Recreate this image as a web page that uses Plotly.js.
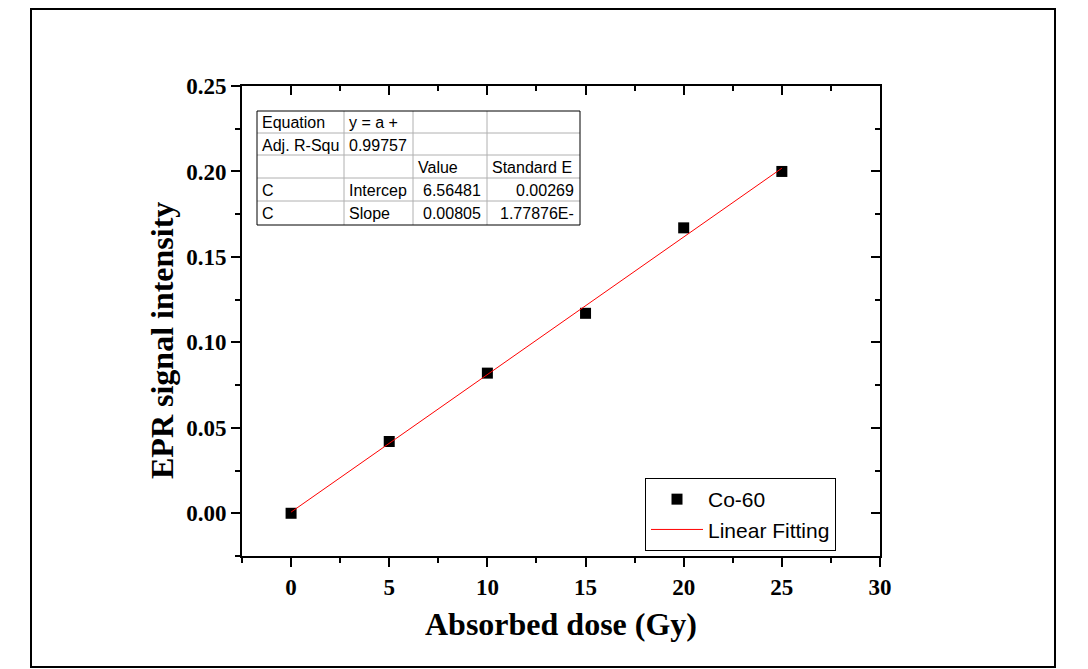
<!DOCTYPE html>
<html>
<head>
<meta charset="utf-8">
<script src="https://cdn.plot.ly/plotly-3.0.1.min.js"></script>
<style>
  body { margin: 0; background: #fff; }
  #plot { width: 1088px; height: 669px; }
</style>
</head>
<body>
<div id="plot"></div>
<script>
var doseGy = [0, 5, 10, 15, 20, 25];
var eprSignal = [0.0, 0.042, 0.082, 0.117, 0.167, 0.200];

// linear fit line end points
var fitX = [0, 25];
var fitY = [0.0007, 0.2019];

// fit result table
var tableRows = [
    ['Equation', 'y = a +', '', ''],
    ['Adj. R-Squ', '0.99757', '', ''],
    ['', '', 'Value', 'Standard E'],
    ['C', 'Intercep', '6.56481', '0.00269'],
    ['C', 'Slope', '0.00805', '1.77876E-']
];

// plot area in pixels
var L = 242, R = 880, T = 86, B = 556;
var W = 1088, H = 669;

function px(x) { return (x - L) / (R - L); }  // pixel -> paper x
function py(y) { return (B - y) / (B - T); }  // pixel -> paper y

var serif = 'Liberation Serif, Times New Roman, serif';
var sans = 'Liberation Sans, Arial, sans-serif';

var pointTrace = {
    x: doseGy,
    y: eprSignal,
    name: 'Co-60',
    mode: 'markers',
    legendrank: 1,
    marker: {symbol: 'square', size: 11, color: '#000'}
};
var fitTrace = {
    x: fitX,
    y: fitY,
    name: 'Linear Fitting',
    mode: 'lines',
    legendrank: 2,
    line: {color: '#ff0000', width: 1}
};

var shapes = [];
var annotations = [];

// outer frame round the whole figure
shapes.push({type: 'rect', xref: 'paper', yref: 'paper',
    x0: px(31), x1: px(1055), y0: py(9), y1: py(667),
    line: {color: '#000', width: 2}});

// the fit table
var colEdges = [257, 344, 413, 487, 580];
var rowEdges = [111, 133, 155, 178, 201, 225];
for (var i = 1; i < rowEdges.length - 1; i++) {
    shapes.push({type: 'line', xref: 'paper', yref: 'paper',
        x0: px(colEdges[0]), x1: px(colEdges[4]), y0: py(rowEdges[i]), y1: py(rowEdges[i]),
        line: {color: '#b0b0b0', width: 1}});
}
for (var j = 1; j < colEdges.length - 1; j++) {
    shapes.push({type: 'line', xref: 'paper', yref: 'paper',
        x0: px(colEdges[j]), x1: px(colEdges[j]), y0: py(rowEdges[0]), y1: py(rowEdges[5]),
        line: {color: '#b0b0b0', width: 1}});
}
shapes.push({type: 'rect', xref: 'paper', yref: 'paper',
    x0: px(colEdges[0]), x1: px(colEdges[4]), y0: py(rowEdges[0]), y1: py(rowEdges[5]),
    line: {color: '#000', width: 1}});

for (var r = 0; r < tableRows.length; r++) {
    for (var c = 0; c < 4; c++) {
        var txt = tableRows[r][c];
        if (!txt) continue;
        var rightAlign = (r >= 3 && c >= 2);
        annotations.push({
            xref: 'paper', yref: 'paper',
            x: rightAlign ? px(colEdges[c + 1] - 4) : px(colEdges[c] + 3),
            y: py((rowEdges[r] + rowEdges[r + 1]) / 2 + 1),
            xanchor: rightAlign ? 'right' : 'left', yanchor: 'middle',
            text: txt, showarrow: false,
            font: {family: sans, size: 16, color: '#000'}
        });
    }
}

// y axis title, placed a bit below the middle like the original
annotations.push({
    xref: 'paper', yref: 'paper', x: px(162), y: py(341),
    xanchor: 'center', yanchor: 'middle', textangle: -90,
    text: '<b>EPR signal intensity</b>', showarrow: false,
    font: {family: serif, size: 32, color: '#000'}
});

var layout = {
    width: W, height: H,
    margin: {l: L, r: W - R, t: T, b: H - B},
    paper_bgcolor: '#fff',
    plot_bgcolor: '#fff',
    showlegend: true,
    legend: {
        x: px(645), y: py(478), xanchor: 'left', yanchor: 'top',
        bordercolor: '#000', borderwidth: 1, bgcolor: '#fff',
        font: {family: sans, size: 21, color: '#000'},
        itemwidth: 52, tracegroupgap: 0, traceorder: 'normal'
    },
    xaxis: {
        range: [-2.5, 30], dtick: 5, tick0: 0,
        ticks: 'outside', ticklen: 9, tickwidth: 2, tickcolor: '#000',
        minor: {dtick: 2.5, tick0: 0, ticks: 'outside', ticklen: 5, tickwidth: 2, tickcolor: '#000', showgrid: false},
        showline: true, linewidth: 2, linecolor: '#000', mirror: true,
        showgrid: false, zeroline: false,
        tickfont: {family: serif, size: 23, color: '#000', weight: 'bold'},
        title: {text: '<b>Absorbed dose (Gy)</b>', font: {family: serif, size: 32, color: '#000'}, standoff: 14}
    },
    yaxis: {
        range: [-0.025, 0.25], dtick: 0.05, tick0: 0, tickformat: '.2f',
        ticks: 'outside', ticklen: 9, tickwidth: 2, tickcolor: '#000',
        minor: {dtick: 0.025, tick0: 0, ticks: 'outside', ticklen: 5, tickwidth: 2, tickcolor: '#000', showgrid: false},
        showline: true, linewidth: 2, linecolor: '#000', mirror: true,
        showgrid: false, zeroline: false,
        tickfont: {family: serif, size: 23, color: '#000', weight: 'bold'}
    },
    // inward ticks on the top and right borders
    xaxis2: {
        overlaying: 'x', anchor: 'y', side: 'top', range: [-2.5, 30], dtick: 5, tick0: 0,
        ticks: 'inside', ticklen: 9, tickwidth: 2, tickcolor: '#000',
        minor: {dtick: 2.5, tick0: 0, ticks: 'inside', ticklen: 5, tickwidth: 2, tickcolor: '#000'},
        showticklabels: false, showline: false, showgrid: false, zeroline: false
    },
    yaxis2: {
        overlaying: 'y', anchor: 'x', side: 'right', range: [-0.025, 0.25], dtick: 0.05, tick0: 0,
        ticks: 'inside', ticklen: 9, tickwidth: 2, tickcolor: '#000',
        minor: {dtick: 0.025, tick0: 0, ticks: 'inside', ticklen: 5, tickwidth: 2, tickcolor: '#000'},
        showticklabels: false, showline: false, showgrid: false, zeroline: false
    },
    shapes: shapes,
    annotations: annotations
};

// line drawn after the markers so it sits on top, legend order kept by legendrank
Plotly.newPlot('plot', [pointTrace, fitTrace, {x: [], y: [], xaxis: 'x2', yaxis: 'y2', showlegend: false}], layout, {displayModeBar: false});
</script>
</body>
</html>
